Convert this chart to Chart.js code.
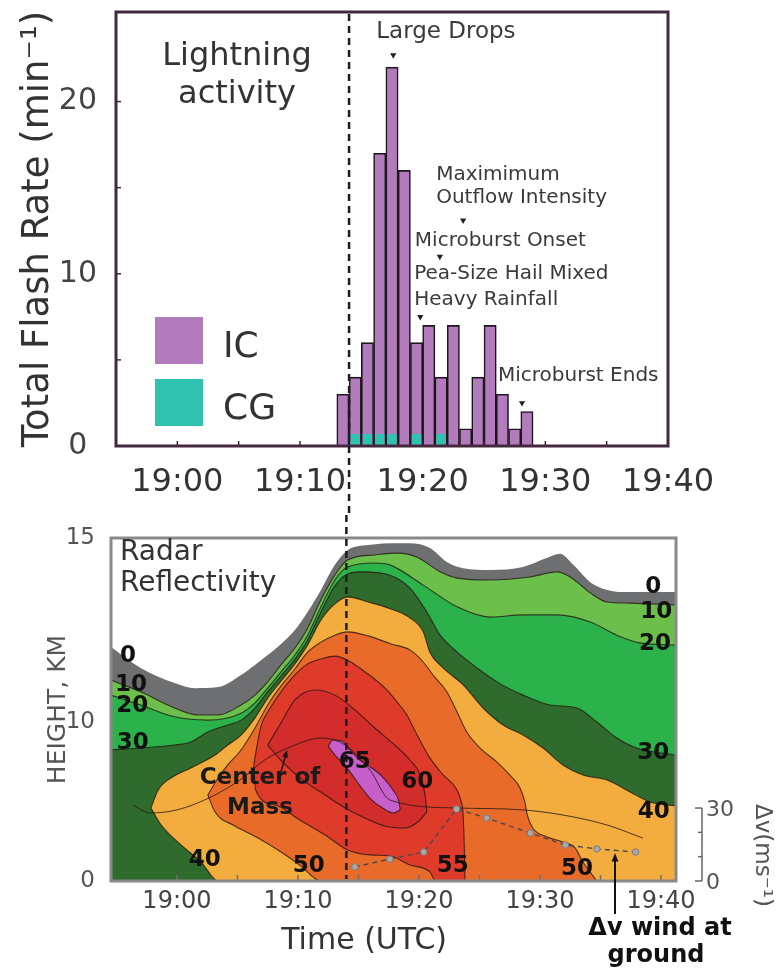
<!DOCTYPE html>
<html>
<head>
<meta charset="utf-8">
<title>Lightning activity and radar reflectivity</title>
<script src="https://cdn.jsdelivr.net/npm/chart.js@4.4.1/dist/chart.umd.min.js"></script>
<style>
  html, body { margin: 0; padding: 0; background: #ffffff; }
  #page { position: relative; width: 779px; height: 974px; overflow: hidden; background: #ffffff; }
  canvas { position: absolute; left: 0; }
  #flash { top: 0; }
  #radar { top: 515px; }
</style>
</head>
<body>
<div id="page">
  <canvas id="flash" width="779" height="515" style="width:779px;height:515px"></canvas>
  <canvas id="radar" width="779" height="459" style="width:779px;height:459px"></canvas>
</div>
<script>
// ---------------- Lightning activity (upper panel) ----------------
// one-minute bins, minutes after 19:00 UTC
const flashMinutes   = [13, 14, 15, 16, 17, 18, 19, 20, 21, 22, 23, 24, 25, 26, 27, 28];
const totalFlashRate = [3, 4, 6, 17, 22, 16, 6, 7, 4, 7, 1, 4, 7, 3, 1, 2];
const cgFlashRate    = [0, 0.7, 0.7, 0.7, 0.7, 0, 0.7, 0, 0.7, 0, 0, 0, 0, 0, 0, 0];

const timeTickValues = [0, 10, 20, 30, 40];
const timeTickLabels = ['19:00', '19:10', '19:20', '19:30', '19:40'];
const rateTicks      = [0, 10, 20];

const eventNames  = [['Large Drops'], ['Pea-Size Hail Mixed', 'Heavy Rainfall'], ['Microburst Onset'],
                     ['Maximimum', 'Outflow Intensity'], ['Microburst Ends']];
const eventTimes  = [17.6, 19.8, 21.4, 23.3, 28.1];
const eventLevels = [22.7, 7.5, 11.0, 13.1, 2.5];

const cutTime = 14; // 19:14 UTC, marked across both panels

// ---------------- Radar reflectivity (lower panel) ----------------
// contour boundaries as [minutes after 19:00, height km]
const echoTop0 = [[-5.45,12.04],[-3.0,11.47],[-0.2,11.06],[1.5,10.92],[3.4,10.95],[5.3,11.28],[6.45,11.55],[7.5,11.82],[8.6,12.12],[9.75,12.5],[10.8,12.99],[11.9,13.59],[13.05,14.27],[14.1,14.67],[15.8,14.81],[18.25,14.86],[19.25,14.86],[20.9,14.73],[22.3,14.35],[23.65,14.18],[25.9,14.13],[28.6,14.21],[30.6,14.46],[31.65,14.57],[32.75,14.27],[34.15,13.8],[35.55,13.59],[37.45,13.53],[41.24,13.53]];
const top10 = [[-5.45,11.14],[-3.0,10.82],[-0.2,10.38],[1.75,10.19],[3.4,10.19],[5.3,10.46],[6.45,10.73],[7.5,11.09],[8.6,11.55],[9.75,12.01],[10.8,12.55],[11.9,13.32],[13.05,13.99],[14.1,14.4],[16.35,14.54],[18.25,14.59],[19.85,14.48],[21.75,14.08],[23.15,13.91],[25.9,13.86],[29.15,13.94],[31.4,14.08],[32.5,13.94],[34.15,13.51],[35.55,13.26],[37.45,13.23],[41.24,13.18]];
const top20 = [[-5.45,10.73],[-3.0,10.46],[-0.2,10.14],[2.55,10.05],[5.3,10.24],[6.45,10.52],[7.5,10.92],[8.6,11.36],[9.75,11.82],[10.8,12.36],[11.9,13.13],[13.05,13.86],[14.1,14.21],[16.35,14.32],[17.6,14.27],[20.35,13.72],[23.15,13.13],[25.9,12.85],[28.6,12.91],[31.4,12.91],[34.15,12.72],[36.35,12.36],[38.25,12.15],[41.24,12.09]];
const top30 = [[-5.45,8.24],[-3.0,8.36],[-0.2,8.55],[1.15,8.74],[2.55,9.37],[4.2,9.81],[5.3,10.05],[6.45,10.38],[7.5,10.82],[8.6,11.25],[9.75,11.71],[10.8,12.23],[11.9,12.99],[13.05,13.7],[14.1,14.02],[15.2,14.08],[17.6,13.99],[19.25,13.64],[20.65,12.99],[21.75,12.36],[23.15,11.9],[24.8,11.47],[26.45,11.09],[28.6,10.73],[30.85,10.46],[33.05,10.38],[34.7,10.0],[36.35,8.99],[38.0,8.36],[41.24,7.92]];
const top40 = [[-2.15,4.59],[-1.55,5.72],[-0.5,6.48],[1.15,7.11],[3.15,7.92],[4.2,8.55],[5.3,9.18],[6.45,10.11],[7.5,10.65],[8.6,11.11],[9.75,11.58],[10.8,12.09],[11.9,12.77],[13.05,13.21],[14.1,13.4],[15.8,13.26],[17.45,13.1],[19.25,12.83],[20.35,12.45],[20.9,11.9],[22.0,11.47],[23.65,11.01],[25.3,10.38],[26.95,9.81],[28.6,9.18],[30.25,8.36],[31.9,7.3],[33.55,6.67],[35.55,6.35],[37.45,5.6],[39.1,4.97],[41.24,4.72]];
const base40 = [[-2.15,4.59],[-1.3,3.52],[0.35,2.26],[2.0,1.19],[3.4,0],[41.24,0]];
const top50 = [[2.55,5.41],[3.4,6.48],[4.2,7.3],[5.3,8.24],[6.45,9.62],[7.5,10.46],[8.6,10.98],[9.75,11.44],[10.8,11.9],[11.9,12.17],[13.05,12.36],[14.1,12.45],[15.8,12.34],[17.7,12.12],[19.25,11.96],[20.35,11.63],[21.15,11.28],[22.3,10.82],[23.15,10.27],[23.95,9.37],[25.05,8.36],[26.45,7.48],[27.5,6.67],[28.35,5.85],[28.75,4.97],[28.95,4.15],[29.4,3.33],[30.6,2.77],[31.9,2.45],[32.9,2.08],[33.55,1.19],[34.7,0]];
const base50 = [[2.55,5.41],[3.15,4.34],[4.8,3.46],[6.7,2.7],[8.6,1.82],[10.25,0.94],[11.9,0],[34.7,0]];
const top55 = [[6.35,7.3],[6.7,8.87],[7.0,9.87],[7.5,10.27],[8.6,10.82],[9.75,11.28],[10.8,11.58],[11.9,11.71],[13.05,11.79],[14.1,11.68],[15.55,11.36],[17.2,10.92],[18.2,10.54],[19.0,10.19],[19.85,9.18],[20.9,7.74],[22.0,6.67],[23.15,5.72],[23.45,5.09],[23.65,4.15],[23.75,1.95],[23.8,0]];
const base55 = [[6.35,7.3],[6.5,5.72],[8.1,4.78],[10.15,3.84],[12.25,2.89],[14.1,1.95],[15.95,1.64],[17.6,1.57],[19.25,1.01],[20.9,0.57],[21.4,0],[23.8,0]];
const top60 = [[7.5,8.55],[8.5,9.81],[9.75,10.6],[11.4,10.87],[13.05,10.73],[14.7,10.33],[16.35,9.62],[18.0,8.55],[19.25,7.61],[20.1,6.67],[20.5,5.41],[20.65,4.34]];
const base60 = [[7.5,8.55],[8.95,7.3],[10.6,6.23],[12.25,5.41],[13.9,4.59],[15.55,3.96],[17.2,3.46],[18.85,3.33],[19.9,3.71],[20.65,4.34]];
const top65 = [[12.5,8.49],[12.9,8.87],[13.65,8.8],[14.3,8.24],[15.2,7.55],[16.1,7.11],[17.0,6.54],[17.85,5.72],[18.35,4.97],[18.45,4.47]];
const base65 = [[12.5,8.49],[13.05,7.92],[13.7,7.42],[14.3,6.86],[15.2,5.91],[16.1,5.09],[17.0,4.59],[17.85,4.28],[18.45,4.47]];

// centre-of-mass height track
const massTrack = [[-3.65,4.78],[-2.25,4.28],[0,4.47],[2.8,5.28],[5.2,6.35],[7.25,7.61],[9.15,8.36],[11.9,8.99],[13.9,8.55],[15.95,6.98],[17.6,5.09],[23.15,4.59],[28.6,4.47],[31.9,4.15],[35.55,3.52],[38.5,2.7]];

// wind speed difference at the ground (right-hand axis, m/s)
const dvTimes  = [14.7, 17.6, 20.4, 23.1, 25.6, 29.2, 32.1, 34.7, 37.9];
const dvValues = [5.8, 9.0, 11.9, 29.6, 25.9, 19.7, 14.8, 13.2, 11.9];

const heightTicks  = [0, 10, 15];
const radarMinuteTicks = [0, 5, 10, 15, 20, 25, 30, 35, 40];
const dvTicks      = [0, 10, 20, 30];
const dvLabelled   = [0, 30];

const layerNames = ['0 dBZ', '10 dBZ', '20 dBZ', '30 dBZ', '40 dBZ', '50 dBZ', '55 dBZ', '60 dBZ', '65 dBZ'];
const layerTops  = [echoTop0, top10, top20, top30, top40, top50, top55, top60, top65];
const layerBases = [null, null, null, null, base40, base50, base55, base60, base65];

// contour value labels: text, minutes, km
const contourLabels = [
  ['0', -4.05, 11.79], ['10', -3.8, 11.01], ['20', -3.7, 10.43], ['30', -3.65, 8.68],
  ['0', 39.35, 13.67], ['10', 39.6, 12.99], ['20', 39.5, 12.12], ['30', 39.35, 8.05], ['40', 39.4, 4.34],
  ['40', 2.3, 1.32], ['50', 10.9, 0.94], ['55', 22.8, 0.94], ['50', 33.05, 0.75],
  ['60', 19.85, 6.23], ['65', 14.7, 7.48]
];

// ---------------- styles ----------------
const FONT = "'DejaVu Sans', sans-serif";
const IC_COLOR = '#b27bbc';
const CG_COLOR = '#2fc2b0';
const TOP_FRAME = '#45283f';
const TEXT_DARK = '#333333';
const layerColors = ['#6e6f71', '#6cbf4a', '#2cb24b', '#2e6b2d', '#f2ad3e', '#e96b2a', '#df3b2b', '#d22d2a', '#c65fc9'];
const EDGE = 'rgba(35,20,15,0.78)';
const eventFontSizes = [23, 20, 20, 20, 20];
const eventLabelOffsets = [[-17, [-23]], [-6, [-43, -17]], [-25, [-16]], [-27, [-46, -23]], [-24, [-27]]];

Chart.defaults.font.family = FONT;

// height axis: 0-10 km on the lower part, 10-15 km compressed above it
const SPLIT_VALUE = 10;
const SPLIT_FRACTION = 0.4636;
class SplitScale extends Chart.LinearScale {
  static id = 'split';
  static defaults = Chart.LinearScale.defaults;
  getPixelForValue(value) {
    if (value === null || value === undefined || isNaN(value)) return NaN;
    const h = this.bottom - this.top;
    const low = h * SPLIT_FRACTION;
    if (value <= SPLIT_VALUE) return this.bottom - (value - this.min) / (SPLIT_VALUE - this.min) * low;
    return this.bottom - low - (value - SPLIT_VALUE) / (this.max - SPLIT_VALUE) * (h - low);
  }
  getValueForPixel(pixel) {
    const h = this.bottom - this.top;
    const low = h * SPLIT_FRACTION;
    const d = this.bottom - pixel;
    if (d <= low) return this.min + d / low * (SPLIT_VALUE - this.min);
    return SPLIT_VALUE + (d - low) / (h - low) * (this.max - SPLIT_VALUE);
  }
}
Chart.register(SplitScale);

const xy = pairs => pairs.map(([x, y]) => ({ x, y }));

function arrow(ctx, x0, y0, x1, y1, head) {
  const ang = Math.atan2(y1 - y0, x1 - x0);
  ctx.beginPath(); ctx.moveTo(x0, y0);
  ctx.lineTo(x1 - Math.cos(ang) * head * 0.8, y1 - Math.sin(ang) * head * 0.8); ctx.stroke();
  ctx.beginPath();
  ctx.moveTo(x1, y1);
  ctx.lineTo(x1 - head * Math.cos(ang - 0.38), y1 - head * Math.sin(ang - 0.38));
  ctx.lineTo(x1 - head * Math.cos(ang + 0.38), y1 - head * Math.sin(ang + 0.38));
  ctx.closePath(); ctx.fill();
}

// ---------------- upper chart ----------------
const flashDecor = {
  id: 'flashDecor',
  afterDraw(chart) {
    const { ctx, chartArea: a, scales: { x, y } } = chart;
    ctx.save();
    // inward tick marks
    ctx.strokeStyle = TOP_FRAME; ctx.lineWidth = 1.5;
    x.ticks.forEach(t => {
      const px = x.getPixelForValue(t.value);
      ctx.beginPath(); ctx.moveTo(px, a.bottom); ctx.lineTo(px, a.bottom - 5); ctx.stroke();
    });
    y.ticks.forEach(t => {
      const py = y.getPixelForValue(t.value);
      ctx.beginPath(); ctx.moveTo(a.left, py); ctx.lineTo(a.left + 5, py); ctx.stroke();
    });
    // frame
    ctx.lineWidth = 3;
    ctx.strokeRect(a.left, a.top, a.right - a.left, a.bottom - a.top);
    // 19:14 marker line
    const cx = x.getPixelForValue(cutTime);
    ctx.strokeStyle = '#1e1e1e'; ctx.lineWidth = 2.5; ctx.setLineDash([7, 5]);
    ctx.beginPath(); ctx.moveTo(cx, a.top + 2); ctx.lineTo(cx, chart.height); ctx.stroke();
    ctx.setLineDash([]);
    // panel title
    ctx.fillStyle = TEXT_DARK; ctx.textAlign = 'center'; ctx.textBaseline = 'alphabetic';
    ctx.font = '32px ' + FONT;
    ctx.fillText('Lightning', a.left + 121, a.top + 53);
    ctx.fillText('activity', a.left + 121, a.top + 91);
    // legend
    const ds = chart.data.datasets;
    const keys = [ds[1], ds[0]];
    keys.forEach((d, i) => {
      const top = a.top + 305 + i * 62;
      ctx.fillStyle = d.backgroundColor;
      ctx.fillRect(a.left + 39, top, 48, 47);
      ctx.fillStyle = TEXT_DARK; ctx.textAlign = 'left';
      ctx.font = '36px ' + FONT;
      ctx.fillText(d.label, a.left + 107, top + 40);
    });
    // event annotations
    const meta = chart.getDatasetMeta(2);
    ctx.fillStyle = '#3a3a3a'; ctx.textAlign = 'left'; ctx.textBaseline = 'middle';
    meta.data.forEach((pt, i) => {
      const [dx, dys] = eventLabelOffsets[i];
      ctx.font = eventFontSizes[i] + 'px ' + FONT;
      eventNames[i].forEach((line, k) => ctx.fillText(line, pt.x + dx, pt.y + dys[k]));
    });
    ctx.restore();
  }
};

new Chart(document.getElementById('flash'), {
  type: 'bar',
  data: {
    datasets: [
      {
        label: 'CG',
        data: flashMinutes.map((m, i) => ({ x: m + 0.5, y: cgFlashRate[i] })),
        backgroundColor: CG_COLOR, borderWidth: 0,
        barPercentage: 0.78, categoryPercentage: 1, grouped: false, order: 1
      },
      {
        label: 'IC',
        data: flashMinutes.map((m, i) => ({ x: m + 0.5, y: totalFlashRate[i] })),
        backgroundColor: IC_COLOR, borderColor: '#1d161c', borderWidth: 1.6,
        barPercentage: 1, categoryPercentage: 1, grouped: false, order: 2
      },
      {
        type: 'scatter',
        label: 'events',
        data: eventTimes.map((t, i) => ({ x: t, y: eventLevels[i] })),
        pointStyle: 'triangle', rotation: 180, radius: 3.6,
        backgroundColor: '#222222', borderColor: '#222222', borderWidth: 0, order: 0
      }
    ]
  },
  options: {
    responsive: false, animation: false, events: [], devicePixelRatio: 1,
    layout: { padding: { top: 12, right: 111, left: 0, bottom: 0 } },
    plugins: { legend: { display: false }, tooltip: { enabled: false } },
    scales: {
      x: {
        type: 'linear', min: -5, max: 40, offset: false,
        grid: { display: false }, border: { display: false },
        afterBuildTicks: s => { s.ticks = [-5, 0, 5, 10, 15, 20, 25, 30, 35, 40].map(v => ({ value: v })); },
        afterFit: s => { s.height = 69; },
        ticks: {
          autoSkip: false, maxRotation: 0, padding: 9, color: TEXT_DARK,
          font: { family: FONT, size: 32 },
          callback: v => { const k = timeTickValues.indexOf(v); return k >= 0 ? timeTickLabels[k] : ''; }
        }
      },
      y: {
        min: 0, max: 25.2,
        grid: { display: false }, border: { display: false },
        afterBuildTicks: s => { s.ticks = [0, 5, 10, 15, 20].map(v => ({ value: v })); },
        afterFit: s => { s.width = 116; s.paddingTop = 0; s.paddingBottom = 0; },
        ticks: {
          crossAlign: 'center', padding: 11, color: '#444444',
          font: { family: FONT, size: 30 },
          callback: v => rateTicks.includes(v) ? String(v) : ''
        },
        title: {
          display: true, text: 'Total Flash Rate (min\u207B\u00B9)', color: TEXT_DARK,
          font: { family: FONT, size: 37 }, padding: { top: 16, bottom: 0 }
        }
      }
    }
  },
  plugins: [flashDecor]
});

// ---------------- lower chart ----------------
const radarSets = [];
layerTops.forEach((top, k) => {
  const idx = radarSets.length;
  const base = layerBases[k];
  radarSets.push({
    label: layerNames[k], data: xy(top),
    backgroundColor: layerColors[k],
    borderColor: k === 0 ? 'rgba(0,0,0,0)' : EDGE, borderWidth: k === 0 ? 0 : 1.1,
    fill: base ? idx + 1 : 'origin'
  });
  if (base) {
    radarSets.push({
      label: layerNames[k] + ' lower edge', data: xy(base),
      backgroundColor: 'rgba(0,0,0,0)', borderColor: EDGE, borderWidth: 1.1, fill: false
    });
  }
});
radarSets.push({
  label: 'Center of Mass', data: xy(massTrack),
  borderColor: 'rgba(40,22,18,0.8)', borderWidth: 1, fill: false
});
radarSets.push({
  label: '\u0394v wind at ground', yAxisID: 'yv',
  data: dvTimes.map((t, i) => ({ x: t, y: dvValues[i] })),
  borderColor: '#4a4a4a', borderWidth: 1.4, borderDash: [5, 4], fill: false,
  cubicInterpolationMode: 'default', tension: 0,
  pointRadius: 3.2, pointBackgroundColor: '#a9a9a9', pointBorderColor: '#7c7c7c', pointBorderWidth: 1
});
radarSets.forEach((d, i) => {
  d.order = -i;
  if (d.pointRadius === undefined) d.pointRadius = 0;
  if (d.cubicInterpolationMode === undefined) d.cubicInterpolationMode = 'monotone';
});

const radarDecor = {
  id: 'radarDecor',
  afterDraw(chart) {
    const { ctx, chartArea: a, scales: { x, y, yv } } = chart;
    ctx.save();
    // inward tick marks on the time axis
    ctx.strokeStyle = '#6f6f6f'; ctx.lineWidth = 1.5;
    x.ticks.forEach(t => {
      const px = x.getPixelForValue(t.value);
      ctx.beginPath(); ctx.moveTo(px, a.bottom); ctx.lineTo(px, a.bottom - 6); ctx.stroke();
    });
    // frame
    ctx.strokeStyle = '#8a8a8a'; ctx.lineWidth = 3;
    ctx.strokeRect(a.left, a.top, a.right - a.left, a.bottom - a.top);
    // 19:14 marker line
    const cx = x.getPixelForValue(cutTime);
    ctx.strokeStyle = '#1e1e1e'; ctx.lineWidth = 2.5; ctx.setLineDash([7, 5]);
    ctx.beginPath(); ctx.moveTo(cx, 0); ctx.lineTo(cx, a.bottom - 2); ctx.stroke();
    ctx.setLineDash([]);
    // contour labels
    ctx.fillStyle = '#111111'; ctx.textAlign = 'center'; ctx.textBaseline = 'middle';
    ctx.font = 'bold 23px ' + FONT;
    contourLabels.forEach(([txt, t, h]) => ctx.fillText(txt, x.getPixelForValue(t), y.getPixelForValue(h)));
    // centre of mass note
    ctx.fillStyle = '#1a1a1a';
    ctx.fillText('Center of', x.getPixelForValue(6.86), y.getPixelForValue(6.48));
    ctx.fillText('Mass', x.getPixelForValue(6.86), y.getPixelForValue(4.59));
    ctx.strokeStyle = '#111111'; ctx.lineWidth = 1.4;
    arrow(ctx, x.getPixelForValue(8.6), y.getPixelForValue(6.86), x.getPixelForValue(9.1), y.getPixelForValue(8.24), 8);
    // panel title
    ctx.fillStyle = TEXT_DARK; ctx.textAlign = 'left'; ctx.textBaseline = 'alphabetic';
    ctx.font = '28px ' + FONT;
    ctx.fillText('Radar', a.left + 9, a.top + 22);
    ctx.fillText('Reflectivity', a.left + 9, a.top + 53);
    // time axis title
    ctx.textAlign = 'center'; ctx.textBaseline = 'middle';
    ctx.font = '30px ' + FONT;
    ctx.fillText('Time (UTC)', a.left + 0.448 * (a.right - a.left), a.bottom + 60);
    // wind difference axis
    const bx = a.right + 26;
    const y0 = yv.getPixelForValue(0), y30 = yv.getPixelForValue(30);
    ctx.strokeStyle = '#666666'; ctx.lineWidth = 1.5;
    ctx.beginPath(); ctx.moveTo(bx, y30); ctx.lineTo(bx, y0); ctx.stroke();
    dvTicks.forEach(v => {
      const py = yv.getPixelForValue(v);
      const len = dvLabelled.includes(v) ? 7 : 4;
      ctx.beginPath(); ctx.moveTo(bx - len, py); ctx.lineTo(bx, py); ctx.stroke();
    });
    ctx.fillStyle = '#555555'; ctx.textAlign = 'left'; ctx.font = '22px ' + FONT;
    dvLabelled.forEach(v => ctx.fillText(String(v), bx + 4, yv.getPixelForValue(v) + 2));
    ctx.save();
    ctx.translate(a.right + 86, (y0 + y30) / 2 + 11);
    ctx.rotate(Math.PI / 2);
    ctx.textAlign = 'center';
    ctx.font = '23px ' + FONT;
    ctx.fillText('\u0394v(ms\u207B\u00B9)', 0, 0);
    ctx.restore();
    // wind note
    const wx = x.getPixelForValue(36.2);
    ctx.strokeStyle = '#111111'; ctx.fillStyle = '#111111'; ctx.lineWidth = 2;
    arrow(ctx, wx, a.bottom + 33, wx, yv.getPixelForValue(11.5), 9);
    ctx.textAlign = 'center'; ctx.textBaseline = 'alphabetic';
    ctx.font = 'bold 24px ' + FONT;
    ctx.fillText('\u0394v wind at', a.right - 16, a.bottom + 54);
    ctx.fillText('ground', a.right - 20, a.bottom + 81);
    ctx.restore();
  }
};

new Chart(document.getElementById('radar'), {
  type: 'line',
  data: { datasets: radarSets },
  options: {
    responsive: false, animation: false, events: [], devicePixelRatio: 1,
    layout: { padding: { top: 23, right: 103, left: 0, bottom: 0 } },
    plugins: { legend: { display: false }, tooltip: { enabled: false } },
    scales: {
      x: {
        type: 'linear', min: -5.45, max: 41.24,
        grid: { display: false }, border: { display: false },
        afterBuildTicks: s => { s.ticks = radarMinuteTicks.map(v => ({ value: v })); },
        afterFit: s => { s.height = 93; },
        ticks: {
          autoSkip: false, maxRotation: 0, padding: -2, color: '#444444',
          font: { family: FONT, size: 24 },
          callback: v => { const k = timeTickValues.indexOf(v); return k >= 0 ? timeTickLabels[k] : ''; }
        }
      },
      y: {
        type: 'split', min: 0, max: 15,
        grid: { display: false }, border: { display: false },
        afterBuildTicks: s => { s.ticks = heightTicks.map(v => ({ value: v })); },
        afterFit: s => { s.width = 111; s.paddingTop = 0; s.paddingBottom = 0; },
        ticks: { padding: 8, color: '#555555', font: { family: FONT, size: 23 }, callback: v => String(v) },
        title: {
          display: true, text: 'HEIGHT, KM', color: '#555555',
          font: { family: FONT, size: 25 }, padding: { top: 43, bottom: 0 }
        }
      },
      yv: { type: 'linear', display: false, position: 'right', min: 0, max: 141 }
    }
  },
  plugins: [radarDecor]
});
</script>
</body>
</html>
